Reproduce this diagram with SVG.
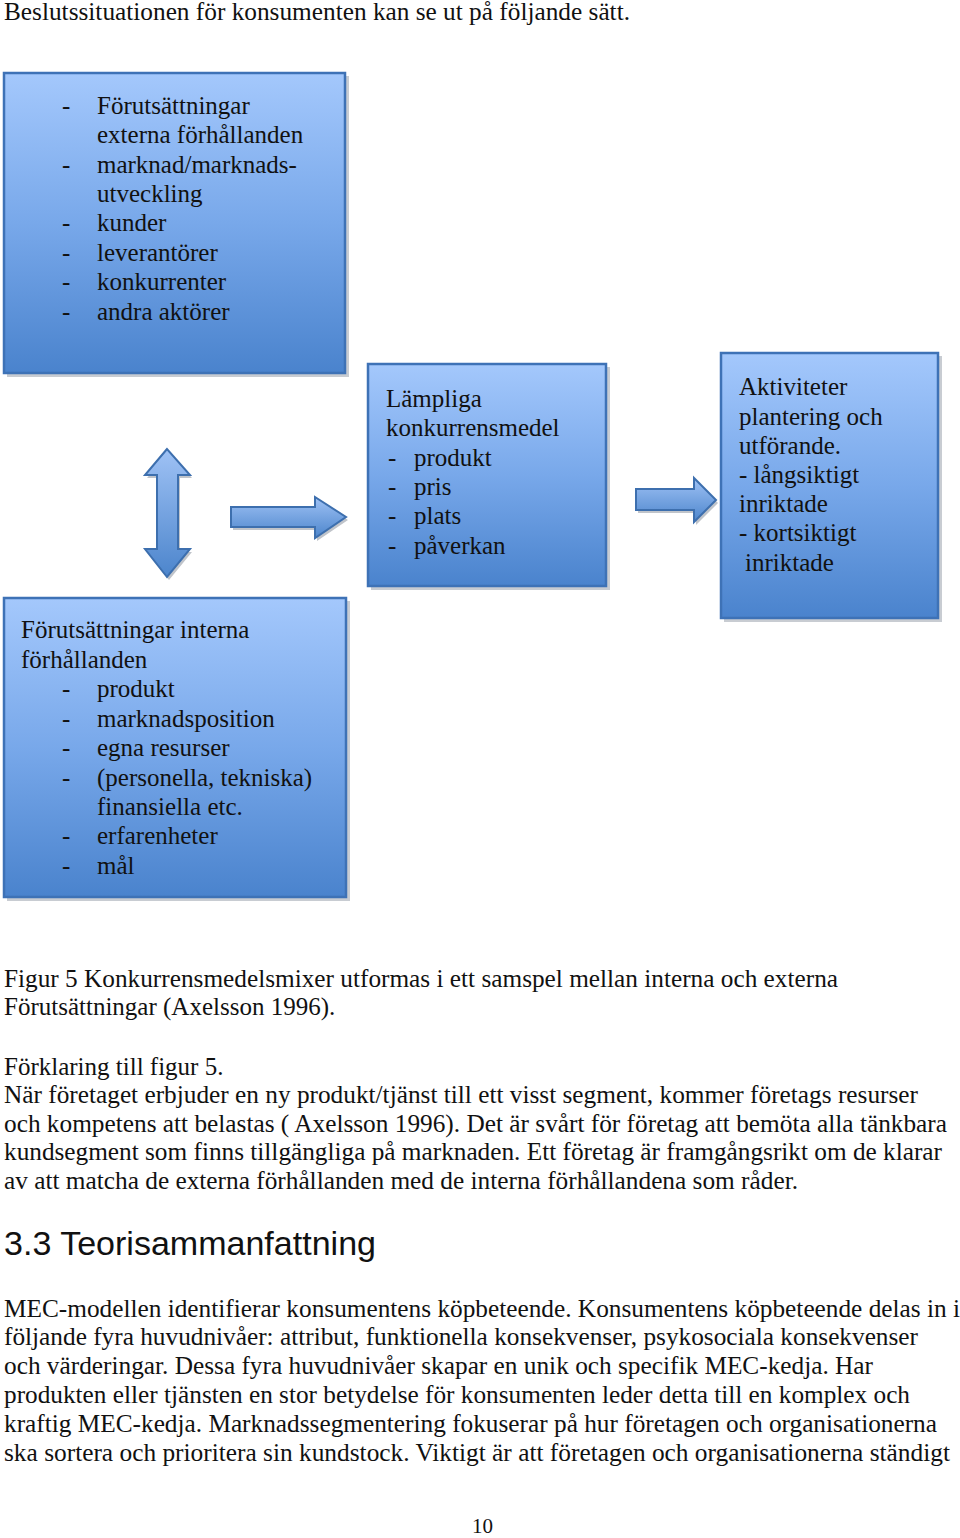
<svg xmlns="http://www.w3.org/2000/svg" width="960" height="1538" viewBox="0 0 960 1538">
<defs>
<linearGradient id="boxg" x1="0" y1="0" x2="0" y2="1">
<stop offset="0" stop-color="#a4c8fc"/>
<stop offset="0.5" stop-color="#78a8ea"/>
<stop offset="1" stop-color="#4a83cd"/>
</linearGradient>
<linearGradient id="arrv" x1="0" y1="0" x2="0" y2="1">
<stop offset="0" stop-color="#9fc2f5"/>
<stop offset="1" stop-color="#4c85cc"/>
</linearGradient>
<linearGradient id="arrh" x1="0" y1="0" x2="0" y2="1">
<stop offset="0" stop-color="#9fc2f5"/>
<stop offset="1" stop-color="#4c85cc"/>
</linearGradient>
<style>
.box{fill:url(#boxg);stroke:#3e72b6;stroke-width:2.5}
.shadow{fill:#c8ccd2}
.arr{stroke:#3d6fae;stroke-width:2;stroke-linejoin:miter}
.ashadow{fill:#c0c4ca}
.t{font-family:"Liberation Serif","Times New Roman",serif;font-size:25px;fill:#111}
.h{font-family:"Liberation Sans",Arial,sans-serif;font-size:34px;fill:#111}
</style>
</defs>
<rect width="960" height="1538" fill="#ffffff"/>

<text class="t" x="4" y="20" textLength="626" lengthAdjust="spacingAndGlyphs">Beslutssituationen för konsumenten kan se ut på följande sätt.</text>

<g id="node-externa">
<rect class="shadow" x="7" y="76" width="342" height="301"/>
<rect class="box" x="4" y="73" width="341" height="300"/>
<text class="t" x="62" y="114">-</text><text class="t" x="97" y="114">Förutsättningar</text>
<text class="t" x="97" y="143">externa förhållanden</text>
<text class="t" x="62" y="173">-</text><text class="t" x="97" y="173">marknad/marknads-</text>
<text class="t" x="97" y="202">utveckling</text>
<text class="t" x="62" y="231">-</text><text class="t" x="97" y="231">kunder</text>
<text class="t" x="62" y="261">-</text><text class="t" x="97" y="261">leverantörer</text>
<text class="t" x="62" y="290">-</text><text class="t" x="97" y="290">konkurrenter</text>
<text class="t" x="62" y="320">-</text><text class="t" x="97" y="320">andra aktörer</text>
</g>

<g id="node-konkurrensmedel">
<rect class="shadow" x="371" y="367" width="239" height="223"/>
<rect class="box" x="368" y="364" width="238" height="222"/>
<text class="t" x="386" y="407">Lämpliga</text>
<text class="t" x="386" y="436">konkurrensmedel</text>
<text class="t" x="388" y="466">-</text><text class="t" x="414" y="466">produkt</text>
<text class="t" x="388" y="495">-</text><text class="t" x="414" y="495">pris</text>
<text class="t" x="388" y="524">-</text><text class="t" x="414" y="524">plats</text>
<text class="t" x="388" y="554">-</text><text class="t" x="414" y="554">påverkan</text>
</g>

<g id="node-aktiviteter">
<rect class="shadow" x="724" y="356" width="218" height="266"/>
<rect class="box" x="721" y="353" width="217" height="265"/>
<text class="t" x="739" y="395">Aktiviteter</text>
<text class="t" x="739" y="425">plantering och</text>
<text class="t" x="739" y="454">utförande.</text>
<text class="t" x="739" y="483">- långsiktigt</text>
<text class="t" x="739" y="512">inriktade</text>
<text class="t" x="739" y="541">- kortsiktigt</text>
<text class="t" x="745" y="571">inriktade</text>
</g>

<g id="node-interna">
<rect class="shadow" x="7" y="601" width="343" height="300"/>
<rect class="box" x="4" y="598" width="342" height="299"/>
<text class="t" x="21" y="638">Förutsättningar interna</text>
<text class="t" x="21" y="668">förhållanden</text>
<text class="t" x="62" y="697">-</text><text class="t" x="97" y="697">produkt</text>
<text class="t" x="62" y="727">-</text><text class="t" x="97" y="727">marknadsposition</text>
<text class="t" x="62" y="756">-</text><text class="t" x="97" y="756">egna resurser</text>
<text class="t" x="62" y="786">-</text><text class="t" x="97" y="786">(personella, tekniska)</text>
<text class="t" x="97" y="815">finansiella etc.</text>
<text class="t" x="62" y="844">-</text><text class="t" x="97" y="844">erfarenheter</text>
<text class="t" x="62" y="874">-</text><text class="t" x="97" y="874">mål</text>
</g>

<g id="connectors">
<polygon class="ashadow" points="169,452 147,478 159,478 159,552 147,552 169,580 192,552 180,552 180,478 192,478"/>
<polygon class="arr" fill="url(#arrv)" points="167,449 145,475 157,475 157,549 145,549 167,577 190,549 178,549 178,475 190,475"/>
<polygon class="ashadow" points="233,510 317,510 317,500 348,520 317,541 317,530 233,530"/>
<polygon class="arr" fill="url(#arrh)" points="231,507 315,507 315,497 346,517 315,538 315,527 231,527"/>
<polygon class="ashadow" points="638,492 696,492 696,481 718,503 696,525 696,513 638,513"/>
<polygon class="arr" fill="url(#arrh)" points="636,489 694,489 694,478 716,500 694,522 694,510 636,510"/>
</g>

<text class="t" x="4" y="987" textLength="834" lengthAdjust="spacingAndGlyphs">Figur 5 Konkurrensmedelsmixer utformas i ett samspel mellan interna och externa</text>
<text class="t" x="4" y="1015">Förutsättningar (Axelsson 1996).</text>
<text class="t" x="4" y="1075">Förklaring till figur 5.</text>
<text class="t" x="4" y="1103" textLength="914" lengthAdjust="spacingAndGlyphs">När företaget erbjuder en ny produkt/tjänst till ett visst segment, kommer företags resurser</text>
<text class="t" x="4" y="1132" textLength="943" lengthAdjust="spacingAndGlyphs">och kompetens att belastas ( Axelsson 1996). Det är svårt för företag att bemöta alla tänkbara</text>
<text class="t" x="4" y="1160" textLength="938" lengthAdjust="spacingAndGlyphs">kundsegment som finns tillgängliga på marknaden. Ett företag är framgångsrikt om de klarar</text>
<text class="t" x="4" y="1189" textLength="794" lengthAdjust="spacingAndGlyphs">av att matcha de externa förhållanden med de interna förhållandena som råder.</text>

<text class="h" x="4" y="1255" textLength="372" lengthAdjust="spacingAndGlyphs">3.3 Teorisammanfattning</text>

<text class="t" x="4" y="1317" textLength="956" lengthAdjust="spacingAndGlyphs">MEC-modellen identifierar konsumentens köpbeteende. Konsumentens köpbeteende delas in i</text>
<text class="t" x="4" y="1345" textLength="914" lengthAdjust="spacingAndGlyphs">följande fyra huvudnivåer: attribut, funktionella konsekvenser, psykosociala konsekvenser</text>
<text class="t" x="4" y="1374" textLength="869" lengthAdjust="spacingAndGlyphs">och värderingar. Dessa fyra huvudnivåer skapar en unik och specifik MEC-kedja. Har</text>
<text class="t" x="4" y="1403" textLength="906" lengthAdjust="spacingAndGlyphs">produkten eller tjänsten en stor betydelse för konsumenten leder detta till en komplex och</text>
<text class="t" x="4" y="1432" textLength="933" lengthAdjust="spacingAndGlyphs">kraftig MEC-kedja. Marknadssegmentering fokuserar på hur företagen och organisationerna</text>
<text class="t" x="4" y="1461" textLength="946" lengthAdjust="spacingAndGlyphs">ska sortera och prioritera sin kundstock. Viktigt är att företagen och organisationerna ständigt</text>

<text class="t" x="472" y="1533" style="font-size:21px">10</text>
</svg>
